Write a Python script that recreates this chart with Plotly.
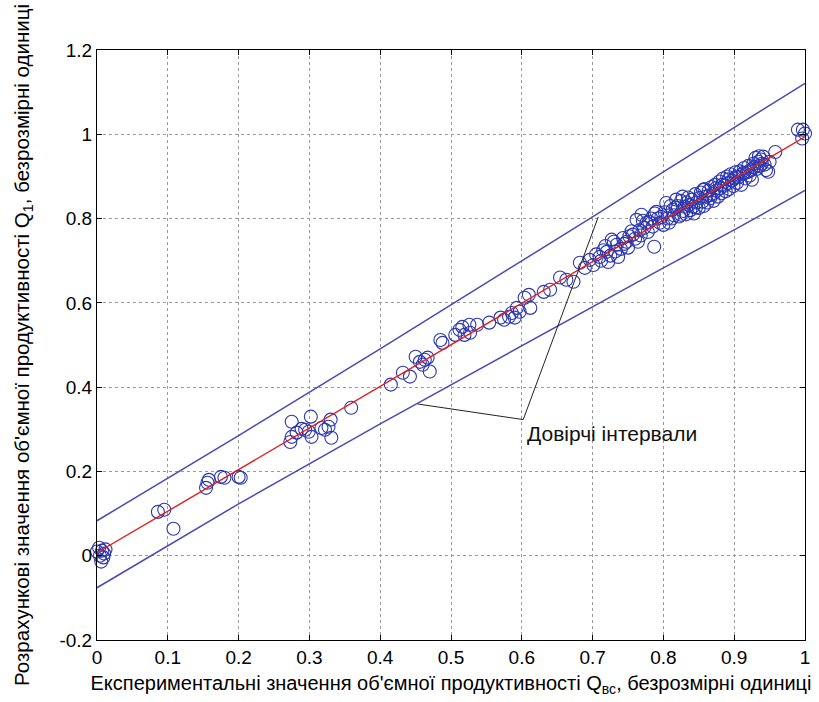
import plotly.graph_objects as go

# ---------------- data ----------------
x_exp = [
    0.000, 0.003, 0.007, 0.006, 0.010, 0.004, 0.012, 0.009,
    0.086, 0.095, 0.108,
    0.154, 0.158, 0.156, 0.175, 0.180, 0.200, 0.203,
    0.273, 0.275, 0.275, 0.282, 0.289, 0.294, 0.302, 0.303, 0.299, 0.317,
    0.322, 0.330, 0.331, 0.327, 0.359,
    0.415, 0.432, 0.442, 0.450, 0.456, 0.463, 0.467, 0.470, 0.460,
    0.485, 0.488, 0.506, 0.512, 0.516, 0.519, 0.526, 0.527, 0.537, 0.554,
    0.570, 0.575, 0.582, 0.586, 0.590, 0.593, 0.597, 0.604, 0.610, 0.612,
    0.631, 0.640, 0.654, 0.673, 0.663,
    0.682, 0.689, 0.696, 0.701, 0.710, 0.720, 0.722, 0.727, 0.734, 0.736,
    0.743, 0.750, 0.757, 0.762, 0.764, 0.769, 0.773, 0.780, 0.785, 0.787,
    0.790, 0.797, 0.804, 0.808, 0.813, 0.818, 0.825, 0.827,
    0.715, 0.730, 0.745, 0.755, 0.768, 0.776, 0.792, 0.800, 0.812,
    0.705, 0.712, 0.718, 0.725, 0.732, 0.740, 0.748, 0.752, 0.760, 0.766,
    0.771, 0.778, 0.783, 0.788, 0.795, 0.802, 0.806, 0.810, 0.815, 0.817,
    0.820, 0.822, 0.825, 0.828, 0.830, 0.832, 0.835, 0.836, 0.838, 0.840,
    0.842, 0.843, 0.845, 0.847, 0.850, 0.851, 0.853, 0.855, 0.857, 0.858,
    0.860, 0.862, 0.864, 0.866, 0.868, 0.870, 0.871, 0.873, 0.875, 0.877,
    0.879, 0.880, 0.882, 0.884, 0.886, 0.888, 0.890, 0.891, 0.893, 0.895,
    0.897, 0.899, 0.900, 0.902, 0.904, 0.906, 0.908, 0.910, 0.912, 0.914,
    0.916, 0.918, 0.920, 0.922, 0.924, 0.925, 0.927, 0.930, 0.932, 0.934,
    0.936, 0.938, 0.941, 0.943, 0.945, 0.948, 0.950, 0.958,
    0.833, 0.846, 0.856, 0.865, 0.874, 0.883, 0.892, 0.903, 0.913, 0.921,
    0.928, 0.935, 0.939,
    0.990, 0.997, 1.003, 0.996, 1.000,
]
y_calc = [
    0.010, 0.019, 0.012, -0.014, 0.005, 0.000, 0.015, -0.004,
    0.104, 0.109, 0.064,
    0.161, 0.180, 0.173, 0.187, 0.185, 0.187, 0.185,
    0.270, 0.318, 0.282, 0.292, 0.301, 0.299, 0.330, 0.282, 0.294, 0.303,
    0.299, 0.323, 0.280, 0.306, 0.351,
    0.406, 0.434, 0.425, 0.472, 0.460, 0.465, 0.470, 0.437, 0.453,
    0.512, 0.505, 0.524, 0.536, 0.543, 0.524, 0.548, 0.529, 0.548, 0.553,
    0.565, 0.560, 0.567, 0.576, 0.565, 0.588, 0.579, 0.612, 0.619, 0.588,
    0.626, 0.631, 0.660, 0.650, 0.655,
    0.695, 0.683, 0.702, 0.690, 0.709, 0.721, 0.697, 0.750, 0.738, 0.709,
    0.754, 0.731, 0.762, 0.797, 0.745, 0.809, 0.778, 0.792, 0.781, 0.733,
    0.816, 0.804, 0.837, 0.790, 0.821, 0.845, 0.809, 0.852,
    0.725, 0.745, 0.740, 0.770, 0.760, 0.790, 0.800, 0.785, 0.800,
    0.715, 0.700, 0.735, 0.712, 0.722, 0.728, 0.745, 0.758, 0.752, 0.772,
    0.795, 0.768, 0.800, 0.812, 0.790, 0.815, 0.800, 0.830, 0.808, 0.826,
    0.830, 0.805, 0.842, 0.818, 0.828, 0.810, 0.850, 0.832, 0.820, 0.845,
    0.828, 0.812, 0.858, 0.838, 0.825, 0.849, 0.862, 0.840, 0.830, 0.870,
    0.852, 0.838, 0.866, 0.848, 0.875, 0.858, 0.842, 0.880, 0.866, 0.852,
    0.888, 0.872, 0.860, 0.895, 0.878, 0.865, 0.900, 0.884, 0.870, 0.905,
    0.890, 0.877, 0.895, 0.910, 0.885, 0.898, 0.912, 0.880, 0.905, 0.920,
    0.895, 0.910, 0.925, 0.902, 0.915, 0.892, 0.930, 0.944, 0.918, 0.935,
    0.925, 0.940, 0.947, 0.928, 0.915, 0.911, 0.935, 0.958,
    0.838, 0.826, 0.868, 0.855, 0.872, 0.880, 0.893, 0.900, 0.908, 0.912,
    0.922, 0.948, 0.930,
    1.011, 1.011, 1.006, 0.990, 1.002,
]

fit_x = [0.0, 1.0]
fit_y = [0.007, 0.994]

band_x = [0.0, 0.2, 0.4, 0.6, 0.7, 0.8, 0.9, 1.0]
band_upper = [0.083, 0.285, 0.491, 0.699, 0.804, 0.911, 1.017, 1.121]
band_lower = [-0.076, 0.123, 0.313, 0.499, 0.592, 0.683, 0.773, 0.867]

# annotation leader lines: (start on lower band, junction, end on upper band)
leader_x = [0.453, 0.602, 0.708]
leader_y = [0.360, 0.323, 0.804]
annot_text = "Довірчі інтервали"

x_ticks = [0, 0.1, 0.2, 0.3, 0.4, 0.5, 0.6, 0.7, 0.8, 0.9, 1.0]
x_ticktext = ["0", "0.1", "0.2", "0.3", "0.4", "0.5", "0.6", "0.7", "0.8", "0.9", "1"]
y_ticks = [-0.2, 0, 0.2, 0.4, 0.6, 0.8, 1.0, 1.2]
y_ticktext = ["-0.2", "0", "0.2", "0.4", "0.6", "0.8", "1", "1.2"]

x_title = "Експериментальні значення об'ємної продуктивності Q<sub>вс</sub>, безрозмірні одиниці"
y_title = "Розрахункові значення об'ємної продуктивності Q<sub>1</sub>, безрозмірні одиниці"

# ---------------- figure ----------------
NARROW = "Liberation Sans Narrow, Liberation Sans, Arial, sans-serif"
REGULAR = "Liberation Sans, Arial, sans-serif"
BLUE_LINE = "#4a4ab8"
BLUE_MK = "#2c38b0"
RED = "#e0201c"

fig = go.Figure()

fig.add_trace(go.Scatter(x=band_x, y=band_upper, mode="lines",
                         line=dict(color=BLUE_LINE, width=1.5), hoverinfo="skip"))
fig.add_trace(go.Scatter(x=band_x, y=band_lower, mode="lines",
                         line=dict(color=BLUE_LINE, width=1.5), hoverinfo="skip"))
fig.add_trace(go.Scatter(x=x_exp, y=y_calc, mode="markers", cliponaxis=False,
                         marker=dict(symbol="circle-open", size=13,
                                     color=BLUE_MK, line=dict(width=1.1, color=BLUE_MK))))
fig.add_trace(go.Scatter(x=fit_x, y=fit_y, mode="lines",
                         line=dict(color=RED, width=1.4), hoverinfo="skip"))
fig.add_trace(go.Scatter(x=leader_x, y=leader_y, mode="lines",
                         line=dict(color="#222222", width=1), hoverinfo="skip"))

fig.add_annotation(x=leader_x[1], y=leader_y[1], xref="x", yref="y",
                   text=annot_text, showarrow=False, xanchor="left", yanchor="top",
                   xshift=2, yshift=0,
                   font=dict(family=NARROW, size=21, color="#111111"))

axis_common = dict(
    showline=True, linecolor="black", linewidth=1, mirror="ticks",
    ticks="inside", ticklen=5, tickcolor="black",
    showgrid=True, gridcolor="#9a9a9a", griddash="dot", gridwidth=1,
    zeroline=False,
    tickfont=dict(family=REGULAR, size=19, color="black"),
)

fig.update_xaxes(range=[0, 1], tickvals=x_ticks, ticktext=x_ticktext,
                 title=dict(text=x_title, standoff=9,
                            font=dict(family=NARROW, size=20, color="black")),
                 **axis_common)
fig.update_yaxes(range=[-0.2, 1.2], tickvals=y_ticks, ticktext=y_ticktext,
                 title=dict(text=y_title, standoff=24,
                            font=dict(family=NARROW, size=20.5, color="black")),
                 **axis_common)

fig.update_layout(
    width=819, height=702,
    margin=dict(l=97, r=9, t=50, b=62),
    paper_bgcolor="white", plot_bgcolor="white",
    showlegend=False,
)

fig.write_html("out.html")
